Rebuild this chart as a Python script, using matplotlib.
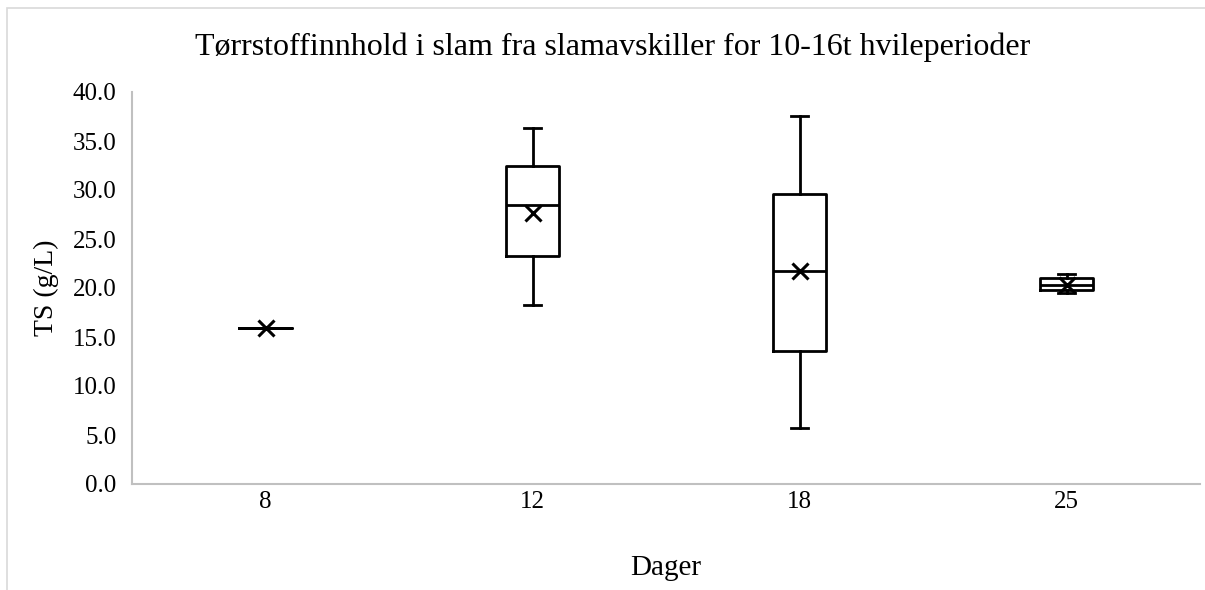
import matplotlib
matplotlib.use("Agg")
import matplotlib.pyplot as plt
from matplotlib.patches import Rectangle

plt.rcParams['font.family'] = ['Liberation Serif', 'DejaVu Serif']

# Days of sludge storage and TS box statistics (g/L)
days = ["8", "12", "18", "25"]
whisker_low = [15.9, 18.3, 5.7, 19.5]
q1 = [15.9, 23.3, 13.6, 19.8]
median = [15.9, 28.5, 21.7, 20.3]
q3 = [15.9, 32.4, 29.6, 21.0]
whisker_high = [15.9, 36.3, 37.6, 21.4]
mean = [15.9, 27.7, 21.7, 20.3]

y_ticks = [0, 5, 10, 15, 20, 25, 30, 35, 40]

stats = []
for lab, lo, a, m, b, hi, mu in zip(days, whisker_low, q1, median, q3, whisker_high, mean):
    stats.append(dict(label=lab, whislo=lo, q1=a, med=m, q3=b, whishi=hi, mean=mu, fliers=[]))

fig = plt.figure(figsize=(12.05, 5.9), dpi=100)
ax = fig.add_axes([132 / 1205, 106 / 590, 1068 / 1205, 392 / 590])

lw = 2.0
ax.bxp(stats, positions=range(1, len(days) + 1), widths=0.195, showmeans=True,
       showfliers=False,
       boxprops=dict(color='black', linewidth=lw),
       medianprops=dict(color='black', linewidth=lw),
       whiskerprops=dict(color='black', linewidth=lw),
       capprops=dict(color='black', linewidth=lw),
       capwidths=0.06,
       meanprops=dict(marker='x', markeredgecolor='black', markerfacecolor='black',
                      markersize=11, markeredgewidth=2.2))

ax.set_xlim(0.5, len(days) + 0.5)
ax.set_ylim(0, 40)
ax.set_yticks(y_ticks)
ax.set_yticklabels([f"{v:.1f}" for v in y_ticks], fontsize=18)
ax.set_xticks(range(1, len(days) + 1))
ax.set_xticklabels(days, fontsize=18)
ax.tick_params(axis='x', length=0, pad=5)
ax.tick_params(axis='y', length=0, pad=11)

for side in ('top', 'right'):
    ax.spines[side].set_visible(False)
for side in ('left', 'bottom'):
    ax.spines[side].set_color('#c0c0c0')
    ax.spines[side].set_linewidth(1.5)

ax.set_ylabel("TS (g/L)", fontsize=20, labelpad=10)
ax.set_xlabel("Dager", fontsize=21, labelpad=30)

fig.text(0.5085, 1 - 47 / 590, "Tørrstoffinnhold i slam fra slamavskiller for 10-16t hvileperioder",
         ha='center', va='center', fontsize=23)

# chart area border
fig.patches.append(Rectangle((7 / 1205, -0.1), 1.2, 1 - 8 / 590 + 0.1, transform=fig.transFigure,
                             fill=False, edgecolor='#d9d9d9', linewidth=1.2))

fig.savefig("out.png", dpi=100)
